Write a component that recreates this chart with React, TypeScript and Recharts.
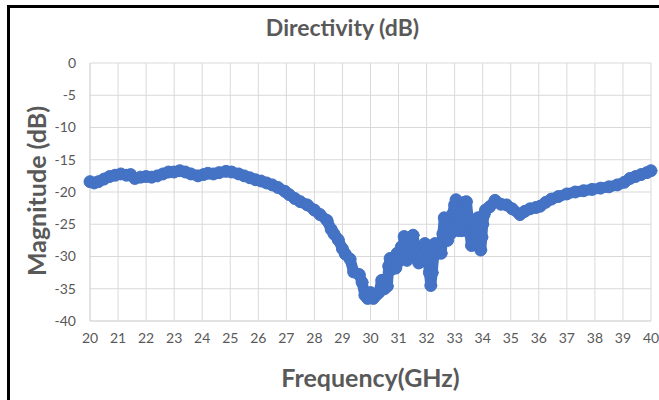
import React from 'react';
import { LineChart, Line, XAxis, YAxis, CartesianGrid } from 'recharts';

const freqGHz = [
  20.0, 20.15, 20.3, 20.5, 20.7, 20.9, 21.1, 21.3, 21.45, 21.6, 21.8, 22.0, 22.2, 22.4, 22.6, 22.8,
  23.0, 23.2, 23.4, 23.6, 23.85, 24.05, 24.2, 24.4, 24.6, 24.85, 25.05, 25.3, 25.5, 25.7, 25.9, 26.1,
  26.3, 26.5, 26.7, 26.95, 27.1, 27.3, 27.5, 27.75, 28.0, 28.2, 28.45, 28.6, 28.7, 28.85, 29.0, 29.1,
  29.27, 29.4, 29.6, 29.7, 29.8, 29.9, 30.0, 30.1, 30.2, 30.3, 30.4, 30.5, 30.6,
  30.65, 30.7, 30.75, 30.8, 30.9, 30.95, 31.0, 31.05, 31.1, 31.15, 31.2, 31.25, 31.3, 31.38, 31.45,
  31.52, 31.58, 31.65, 31.72, 31.8, 31.88, 31.94, 32.0, 32.05, 32.1, 32.15, 32.2, 32.25, 32.3, 32.38,
  32.45, 32.52, 32.58, 32.63, 32.7, 32.75, 32.8, 32.85, 32.92, 33.0, 33.05, 33.1, 33.15, 33.2, 33.25,
  33.3, 33.35, 33.42, 33.48, 33.55, 33.6, 33.65, 33.72, 33.78, 33.83, 33.88, 33.93, 33.97, 34.0, 34.05,
  34.1, 34.25, 34.44, 34.65, 34.85, 35.05, 35.33, 35.5, 35.69, 35.9, 36.05, 36.25,
  36.45, 36.7, 37.0, 37.3, 37.6, 37.9, 38.2, 38.5, 38.8, 39.05, 39.25, 39.45, 39.65, 39.85, 40.0,
];

const directivityDb = [
  -18.4, -18.6, -18.4, -18.0, -17.6, -17.4, -17.2, -17.4, -17.3, -17.9, -17.7, -17.6, -17.7, -17.5, -17.2, -16.9,
  -16.9, -16.7, -16.9, -17.2, -17.5, -17.3, -17.1, -17.2, -17.0, -16.8, -16.9, -17.2, -17.5, -17.8, -18.1, -18.3,
  -18.6, -18.9, -19.3, -19.9, -20.4, -21.0, -21.5, -22.0, -22.8, -23.5, -24.4, -25.8, -26.5, -27.4, -28.8, -29.6,
  -30.4, -32.4, -32.8, -34.0, -36.0, -36.5, -35.6, -36.5, -36.0, -35.6, -33.7, -35.0, -34.6,
  -31.5, -30.3, -32.0, -30.5, -31.8, -29.5, -30.8, -29.2, -28.5, -30.0, -26.9, -28.0, -30.6, -29.5, -27.5,
  -26.7, -28.5, -29.5, -31.0, -29.0, -30.0, -28.0, -29.0, -30.5, -32.5, -34.5, -32.5, -30.0, -28.0, -29.5,
  -28.0, -29.5, -26.5, -24.0, -26.5, -27.5, -25.5, -26.5, -23.5, -22.0, -21.2, -24.0, -26.0, -24.0, -26.0,
  -23.0, -21.6, -21.5, -24.0, -26.5, -28.3, -26.0, -24.5, -26.5, -24.0, -27.5, -29.0, -27.0, -25.0, -23.5,
  -22.8, -22.3, -21.3, -21.9, -22.0, -22.6, -23.5, -23.0, -22.6, -22.4, -22.2, -21.6,
  -21.1, -20.7, -20.3, -20.0, -19.8, -19.6, -19.4, -19.2, -18.9, -18.5, -17.9, -17.6, -17.3, -17.0, -16.7,
];

const xTicks = [20, 21, 22, 23, 24, 25, 26, 27, 28, 29, 30, 31, 32, 33, 34, 35, 36, 37, 38, 39, 40];
const yTicks = [0, -5, -10, -15, -20, -25, -30, -35, -40];

const data = freqGHz.map((f, i) => ({ f, v: directivityDb[i] }));

const FONT = 'Lato, "Open Sans", sans-serif';
const GRAY = '#595959';
const BLUE = '#4472C4';

export default function App() {
  return (
    <div
      style={{
        position: 'absolute',
        left: 7,
        top: 5,
        width: 649,
        height: 395,
        borderLeft: '3px solid #000',
        borderTop: '3px solid #000',
        background: '#fff',
        fontFamily: FONT,
        overflow: 'hidden',
      }}
    >
      <div
        style={{
          position: 'absolute',
          left: 0,
          width: 649,
          top: 4,
          textAlign: 'center',
          fontSize: 23,
          lineHeight: '30px',
          fontWeight: 700,
          color: GRAY,
          paddingLeft: 8,
        }}
      >
        Directivity (dB)
      </div>
      <div
        style={{
          position: 'absolute',
          left: 80,
          width: 561,
          top: 354,
          textAlign: 'center',
          fontSize: 25,
          lineHeight: '30px',
          fontWeight: 700,
          color: GRAY,
        }}
      >
        Frequency(GHz)
      </div>
      <div
        style={{
          position: 'absolute',
          left: 26,
          top: 183,
          width: 0,
          height: 0,
        }}
      >
        <div
          style={{
            position: 'absolute',
            transform: 'translate(-50%, -50%) rotate(-90deg)',
            whiteSpace: 'nowrap',
            fontSize: 25,
            lineHeight: '30px',
            fontWeight: 700,
            color: GRAY,
          }}
        >
          Magnitude (dB)
        </div>
      </div>
      <LineChart
        width={649}
        height={392}
        data={data}
        margin={{ top: 55, right: 8, bottom: 0, left: 0 }}
      >
        <CartesianGrid stroke="#d9d9d9" strokeWidth={1} />
        <XAxis
          dataKey="f"
          type="number"
          domain={[20, 40]}
          ticks={xTicks}
          interval={0}
          axisLine={{ stroke: '#d9d9d9' }}
          tickLine={false}
          tickSize={0}
          tickMargin={12}
          tick={{ fill: GRAY, fontSize: 14, fontFamily: FONT }}
          height={79}
        />
        <YAxis
          type="number"
          domain={[-40, 0]}
          ticks={yTicks}
          interval={0}
          axisLine={{ stroke: '#d9d9d9' }}
          tickLine={false}
          tickSize={0}
          tickMargin={14}
          tick={{ fill: GRAY, fontSize: 14, fontFamily: FONT }}
          width={80}
        />
        <Line
          type="linear"
          dataKey="v"
          stroke={BLUE}
          strokeWidth={11}
          strokeLinejoin="round"
          strokeLinecap="round"
          dot={{ r: 6, fill: BLUE, stroke: BLUE, strokeWidth: 1 }}
          isAnimationActive={false}
        />
      </LineChart>
    </div>
  );
}
